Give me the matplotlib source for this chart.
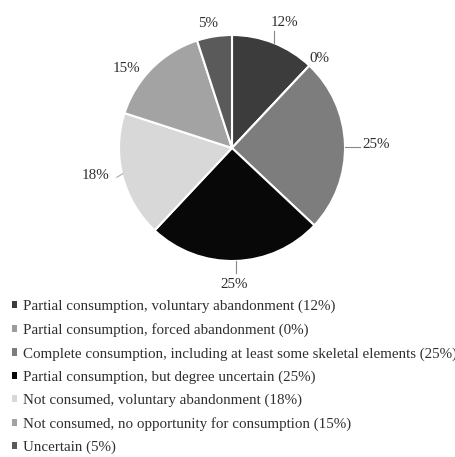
import matplotlib
matplotlib.use("Agg")
import matplotlib.pyplot as plt
from matplotlib.patches import Patch
import numpy as np

categories = [
    "Partial consumption, voluntary abandonment",
    "Partial consumption, forced abandonment",
    "Complete consumption, including at least some skeletal elements",
    "Partial consumption, but degree uncertain",
    "Not consumed, voluntary abandonment",
    "Not consumed, no opportunity for consumption",
    "Uncertain",
]
values = [12, 0, 25, 25, 18, 15, 5]
colors = ["#3c3c3c", "#9c9c9c", "#7d7d7d", "#080808", "#d8d8d8", "#a3a3a3", "#5a5a5a"]

# label placement style: radius factor, angle tweak (deg)
label_r = [1.20, 1.11, 1.28, 1.21, 1.23, 1.17, 1.12]
label_dang = [-1, -1, -0.5, -1, -3, 8, 2]
plt.rcParams['font.family'] = ['Liberation Serif', 'DejaVu Serif']
TXT = "#2e2e2e"
FS = 10.8

fig = plt.figure(figsize=(4.56, 4.57), dpi=100)
R = 113.0
lim = 1.3
wpx = 2 * lim * R
cx, cy = 232.0, 148.0
ax = fig.add_axes([(cx - wpx / 2) / 456, (457 - cy - wpx / 2) / 457, wpx / 456, wpx / 457])

wedges, _ = ax.pie(values, colors=colors, startangle=90, counterclock=False, radius=1.0,
                   wedgeprops=dict(edgecolor='white', linewidth=1.5))
ax.set_xlim(-lim, lim)
ax.set_ylim(-lim, lim)
ax.set_aspect('equal')
ax.axis('off')

for i, (w, v) in enumerate(zip(wedges, values)):
    mid = (w.theta1 + w.theta2) / 2.0
    a = np.deg2rad(mid + label_dang[i])
    r = label_r[i]
    x, y = r * np.cos(a), r * np.sin(a)
    ax.text(x, y, f"{v}%", ha='center', va='center', fontsize=FS, color=TXT)
    am = np.deg2rad(mid)
    ex, ey = np.cos(am), np.sin(am)
    if i == 0 or i == 3:
        ax.plot([ex, ex], [ey, ey + np.sign(ey) * 0.11], color='#888888', lw=0.8)
    elif i == 2:
        ax.plot([ex, ex + 0.13], [ey - 0.02, ey - 0.02], color='#888888', lw=0.8)
    elif i == 4:
        ax.plot([ex - 0.05, ex], [ey - 0.01, ey + 0.02], color='#aaaaaa', lw=0.8)

handles = [Patch(facecolor=c, edgecolor='none') for c in colors]
labels = [f"{c} ({v}%)" for c, v in zip(categories, values)]
fig.legend(handles, labels, loc='upper left', bbox_to_anchor=(12 / 456, 1 - 300 / 457),
           frameon=False, fontsize=FS, handlelength=0.35, handleheight=0.35,
           handletextpad=0.4, labelspacing=0.655, borderpad=0, borderaxespad=0,
           labelcolor=TXT)

fig.savefig("out.png", dpi=100, facecolor='white')
